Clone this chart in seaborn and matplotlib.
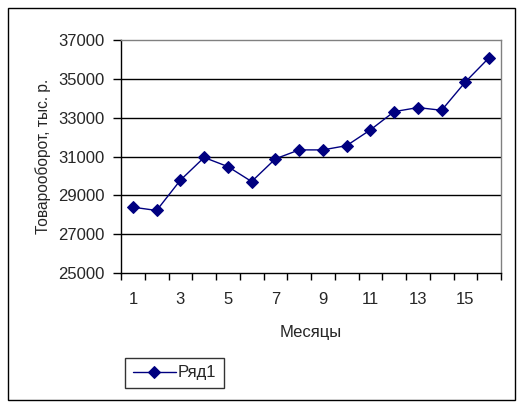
import numpy as np
import pandas as pd
import matplotlib
matplotlib.use("Agg")
import matplotlib.pyplot as plt
from matplotlib.patches import Rectangle
from matplotlib.ticker import MultipleLocator
import seaborn as sns

# ---------------------------------------------------------------------------
# Data
# ---------------------------------------------------------------------------
MONTHS = list(range(1, 17))
TURNOVER = [28390, 28220, 29780, 30950, 30480, 29710, 30880, 31340,
            31340, 31560, 32370, 33310, 33520, 33380, 34840, 36090]
Y_TICKS = [25000, 27000, 29000, 31000, 33000, 35000, 37000]
X_LABELS = [1, 3, 5, 7, 9, 11, 13, 15]
SERIES = "Ряд1"

NAVY = "#000080"
GREY = "#808080"

sns.set_style("white")
plt.rcParams.update({
    "font.family": ["Liberation Sans", "DejaVu Sans"],
    "font.size": 12,
})

df = pd.DataFrame({"month": MONTHS, "value": TURNOVER, "series": SERIES})

fig = plt.figure(figsize=(5.24, 4.08), dpi=100)
ax = fig.add_axes([121 / 524, 1 - 273 / 408, 380 / 524, 233 / 408])

# outer chart border
fig.patches.append(Rectangle((8 / 524, 1 - 400 / 408), 507 / 524, 392 / 408,
                             transform=fig.transFigure, fill=False,
                             edgecolor="black", linewidth=1.0, zorder=0))

for y in Y_TICKS[1:-1]:
    ax.axhline(y, color="black", lw=1.0, zorder=1)

sns.lineplot(data=df, x="month", y="value", ax=ax, color=NAVY, lw=1.0,
             marker="D", markersize=6.5, markeredgecolor=NAVY,
             label=SERIES, zorder=3)

ax.set_xlim(0.5, 16.5)
ax.set_ylim(Y_TICKS[0], Y_TICKS[-1])
ax.set_yticks(Y_TICKS)
ax.set_xticks(X_LABELS)
ax.xaxis.set_minor_locator(MultipleLocator(1, offset=0.5))
ax.tick_params(axis="x", which="major", length=0, pad=14, labelsize=12)
ax.tick_params(axis="x", which="minor", length=5, width=1, color="black",
               direction="out", bottom=True)
ax.tick_params(axis="y", length=6, width=1, color="black", direction="out",
               left=True, pad=6, labelsize=12)

for side in ["left", "bottom"]:
    ax.spines[side].set_color("black")
    ax.spines[side].set_linewidth(1.0)
for side in ["top", "right"]:
    ax.spines[side].set_color(GREY)
    ax.spines[side].set_linewidth(1.0)

ax.set_xlabel("Месяцы", fontsize=12, labelpad=13)
ax.set_ylabel("Товарооборот, тыс. р.", fontsize=11.2, labelpad=5)

leg = ax.legend(loc="upper left", bbox_to_anchor=(125 / 524, 1 - 358 / 408),
                bbox_transform=fig.transFigure, frameon=True, fancybox=False,
                handlelength=2.6, handletextpad=0.1, borderpad=0.45,
                borderaxespad=0, fontsize=12)
leg.get_frame().set_edgecolor("black")
leg.get_frame().set_linewidth(1.0)

fig.savefig("out.png", dpi=100)
